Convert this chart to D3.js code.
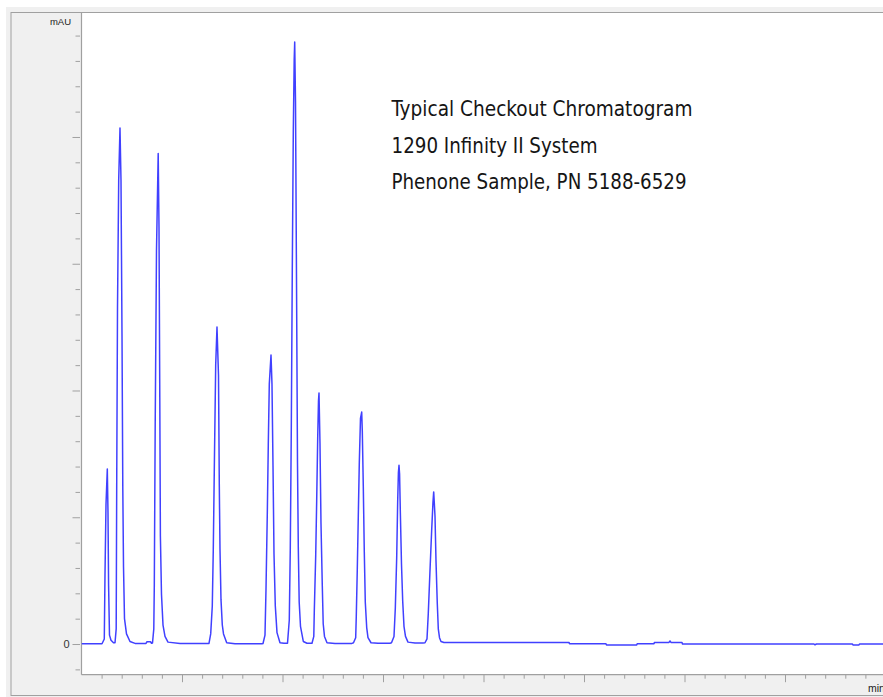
<!DOCTYPE html>
<html><head><meta charset="utf-8">
<script src="https://cdn.jsdelivr.net/npm/d3@7"></script>
<style>html,body{margin:0;padding:0;background:#fff;overflow:hidden}</style>
</head><body><svg id="c" width="883" height="697"></svg>
<script>
// ---- data ----
const retentionTime = [
  0, 0.1020,
  0.1134, 0.1169, 0.1219, 0.1284, 0.1318, 0.1348, 0.1393, 0.1468, 0.1592,
  0.1667, 0.1726, 0.1751, 0.1791, 0.1851, 0.1915, 0.1965, 0.2015, 0.2055, 0.2090, 0.2139, 0.2239, 0.2413,
  0.2662, 0.3209, 0.3259, 0.3433, 0.3483,
  0.3532, 0.3597, 0.3622, 0.3667, 0.3731, 0.3816, 0.3856, 0.3895, 0.3925, 0.3980, 0.4055, 0.4154, 0.4303,
  0.4900, 0.6293,
  0.6343, 0.6428, 0.6507, 0.6557, 0.6617, 0.6676, 0.6741, 0.6816, 0.6856, 0.6890, 0.6940, 0.7005, 0.7065, 0.7224,
  0.7637, 0.8980,
  0.9030, 0.9129, 0.9179, 0.9244, 0.9293, 0.9343, 0.9428, 0.9477, 0.9527, 0.9577, 0.9642, 0.9726, 0.9875,
  1.0074,
  1.0249, 1.0338, 1.0388, 1.0438, 1.0487, 1.0537, 1.0582, 1.0607, 1.0647, 1.0706, 1.0746, 1.0786, 1.0831, 1.0895, 1.1035,
  1.1219,
  1.1467, 1.1557, 1.1582, 1.1651, 1.1701, 1.1751, 1.1791, 1.1816, 1.1865, 1.1915, 1.1980, 1.2025, 1.2089, 1.2214,
  1.2612, 1.3457,
  1.3532, 1.3641, 1.3671, 1.3721, 1.3771, 1.3821, 1.3880, 1.3940, 1.3970, 1.4020, 1.4069, 1.4119, 1.4189, 1.4253, 1.4403,
  1.4751, 1.5348,
  1.5423, 1.5547, 1.5612, 1.5681, 1.5731, 1.5766, 1.5796, 1.5825, 1.5860, 1.5920, 1.5980, 1.6044, 1.6119, 1.6243,
  1.6592, 1.6990,
  1.7089, 1.7189, 1.7253, 1.7338, 1.7422, 1.7487, 1.7522, 1.7587, 1.7636, 1.7701, 1.7751, 1.7811, 1.7885, 1.8034,
  2.4253, 2.4278, 2.6094, 2.6119, 2.7621, 2.7646, 2.8482, 2.8507, 2.9228, 2.9278, 2.9328, 2.9875, 2.9900,
  3.6442, 3.6492, 3.6566, 3.8357, 3.8382, 3.8681, 3.8706, 4.0
];
const absorbance = [
  0.2, 0.2,
  4, 55, 110, 138, 104, 46, 7, 3, 1,
  1, 12, 122, 265, 366, 407, 366, 244, 122, 61, 20, 8, 2,
  0.5, 0.5, 1.8, 1.8, 0.6,
  0.8, 12, 46, 174, 310, 387, 329, 194, 85, 39, 15, 6, 1.5,
  0.4, 0.4,
  0.5, 8, 30, 75, 150, 220, 250, 212, 125, 75, 35, 15, 8, 1,
  0.3, 0.3,
  0.4, 7, 43, 103, 157, 205, 228, 205, 141, 71, 30, 9, 1,
  0.6,
  0.6, 19, 76, 171, 295, 404, 461, 475, 428, 261, 143, 76, 33, 14, 2,
  0.6,
  0.6, 6, 26, 69, 113, 162, 192, 198, 158, 95, 46, 16, 6, 1,
  0.5, 0.5,
  1, 5, 22, 59, 101, 143, 178, 183, 168, 124, 73, 33, 13, 5, 1,
  0.6, 0.6,
  1, 6, 28, 68, 113, 135, 141, 134, 106, 63, 34, 14, 6, 1.5,
  0.8, 0.8,
  1, 4, 24, 58, 90, 112, 120, 101, 66, 32, 12, 5, 2, 1.2,
  1.3, 0.2, 0.2, -0.8, -0.8, 0.2, 0.2, 1.3, 1.3, 2.4, 1.3, 1.3, 0,
  0, -0.6, 0, 0, -0.8, -0.8, 0, 0
];
const yMajorTicks = [0, 100, 200, 300, 400];
const yMinorTicks = [-20, 20, 40, 60, 80, 120, 140, 160, 180, 220, 240, 260, 280, 320, 340, 360, 380, 420, 440, 460, 480];
const yLabelledTicks = [0];
const yTickLabels = ["0"];
const xMajorTicks = [0.5, 1.0, 1.5, 2.0, 2.5, 3.0, 3.5, 4.0];
const xMinorTicks = [0.1,0.2,0.3,0.4,0.6,0.7,0.8,0.9,1.1,1.2,1.3,1.4,1.6,1.7,1.8,1.9,2.1,2.2,2.3,2.4,2.6,2.7,2.8,2.9,3.1,3.2,3.3,3.4,3.6,3.7,3.8,3.9];
const yAxisTitle = "mAU";
const xAxisTitle = "min";
const annotationLines = ["Typical Checkout Chromatogram", "1290 Infinity II System", "Phenone Sample, PN 5188-6529"];
const annotationWidths = [301, 206, 295];

// ---- drawing ----
const svg = d3.select("#c");
const W = 883, H = 697;
const plot = {left: 81.5, top: 13, bottom: 674.7, right: 885.5};
const x = d3.scaleLinear().domain([0, 4.0]).range([plot.left, plot.right]);
const y = d3.scaleLinear().domain([-24.2, 497.8]).range([plot.bottom, plot.top]);
const grey = "#a0a0a0";

// outer panel
svg.append("rect").attr("x", 6).attr("y", 7).attr("width", W).attr("height", H).attr("fill", "#f0f0f0");
svg.append("rect").attr("x", 11).attr("y", 12.5).attr("width", W + 20).attr("height", 683).attr("fill", "#f0f0f0")
  .attr("stroke", grey).attr("stroke-width", 1);
// plot area
svg.append("rect").attr("x", plot.left).attr("y", plot.top).attr("width", W - plot.left + 10)
  .attr("height", plot.bottom - plot.top).attr("fill", "#fff");

// y axis ticks
function styleAxis(g) {
  g.select(".domain").remove();
  g.selectAll(".tick line").attr("stroke", grey).attr("stroke-width", 1);
}
svg.append("g").attr("transform", "translate(80,0)")
  .call(d3.axisLeft(y).tickValues(yMinorTicks).tickSize(4.5).tickFormat(""))
  .call(styleAxis);
svg.append("g").attr("transform", "translate(80,0)")
  .call(d3.axisLeft(y).tickValues(yMajorTicks).tickSize(7.5).tickPadding(3)
    .tickFormat(d => { const i = yLabelledTicks.indexOf(d); return i >= 0 ? yTickLabels[i] : ""; }))
  .call(styleAxis)
  .call(g => g.selectAll("text").attr("font-family", "Liberation Sans, Arial, sans-serif")
    .attr("font-size", 11).attr("fill", "#333"));

// x axis ticks
svg.append("g").attr("transform", `translate(0,${plot.bottom})`)
  .call(d3.axisBottom(x).tickValues(xMinorTicks).tickSize(4).tickFormat(""))
  .call(styleAxis);
svg.append("g").attr("transform", `translate(0,${plot.bottom})`)
  .call(d3.axisBottom(x).tickValues(xMajorTicks).tickSize(7.5).tickFormat(""))
  .call(styleAxis);

// axis lines
svg.append("line").attr("x1", plot.left).attr("x2", plot.left).attr("y1", plot.top).attr("y2", plot.bottom)
  .attr("stroke", grey).attr("stroke-width", 1.2);
svg.append("line").attr("x1", plot.left).attr("x2", W + 5).attr("y1", plot.bottom).attr("y2", plot.bottom)
  .attr("stroke", grey).attr("stroke-width", 1.2);

// axis titles
svg.append("text").attr("x", 71).attr("y", 24.5).attr("text-anchor", "end")
  .attr("font-family", "Liberation Sans, Arial, sans-serif").attr("font-size", 9.5).attr("fill", "#222")
  .text(yAxisTitle);
svg.append("text").attr("x", 868).attr("y", 692)
  .attr("font-family", "Liberation Sans, Arial, sans-serif").attr("font-size", 10.5).attr("fill", "#222")
  .text(xAxisTitle);

// trace
svg.append("clipPath").attr("id", "clip").append("rect")
  .attr("x", plot.left).attr("y", plot.top).attr("width", W).attr("height", plot.bottom - plot.top);
const pts = retentionTime.map((t, i) => [t, absorbance[i]]);
svg.append("path").datum(pts)
  .attr("clip-path", "url(#clip)")
  .attr("fill", "none").attr("stroke", "#4040ff").attr("stroke-width", 1.5)
  .attr("stroke-linejoin", "round")
  .attr("d", d3.line().x(d => x(d[0])).y(d => y(d[1])));

// annotation
const baselines = [116, 152.5, 188.5];
annotationLines.forEach((s, i) => {
  svg.append("text").attr("x", 391.5).attr("y", baselines[i])
    .attr("font-family", "'Liberation Sans Narrow', 'DejaVu Sans Condensed', 'Roboto', sans-serif")
    .attr("font-size", 21).attr("fill", "#151515")
    .attr("textLength", annotationWidths[i]).attr("lengthAdjust", "spacingAndGlyphs")
    .text(s);
});
</script>
</body></html>
